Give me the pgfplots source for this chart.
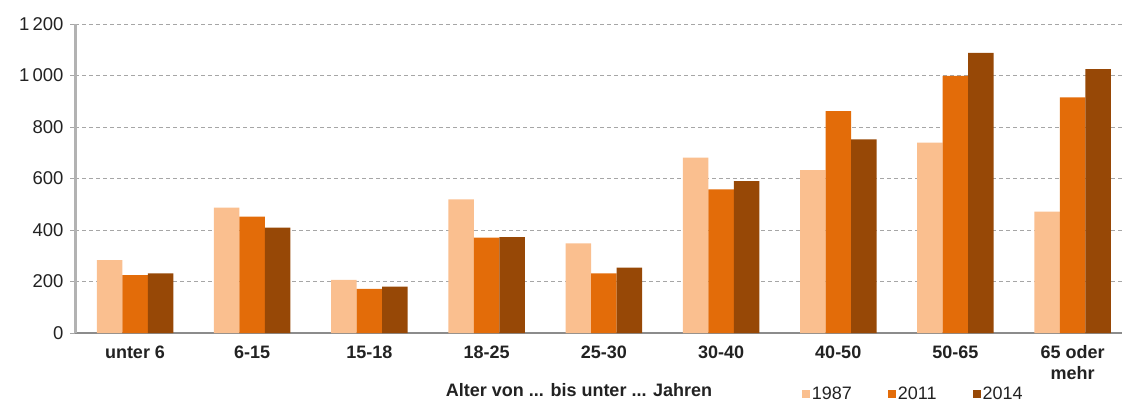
\documentclass[border=0pt]{standalone}
\usepackage{pgfplots}
\pgfplotsset{compat=1.18}
\usepackage{fontspec}
\setmainfont{Liberation Sans}
\definecolor{cA}{HTML}{FABF8F}
\definecolor{cB}{HTML}{E36C09}
\definecolor{cC}{HTML}{974806}
\definecolor{txt}{HTML}{222222}
\begin{document}
\begin{tikzpicture}
\begin{axis}[
  name=ax,
  scale only axis,
  width=1047pt, height=309pt,
  xmin=-0.512, xmax=8.421,
  ymin=0, ymax=1200,
  ytick={0,200,400,600,800,1000,1200},
  yticklabels={0,200,400,600,800,1\,000,1\,200},
  xtick={0,1,2,3,4,5,6,7,8},
  xticklabels={unter 6,6-15,15-18,18-25,25-30,30-40,40-50,50-65,{65 oder\\mehr}},
  xticklabel style={font=\fontsize{18}{21}\selectfont\bfseries, text=txt, align=center, anchor=north, yshift=-4pt},
  yticklabel style={font=\fontsize{18.5}{20}\selectfont, text=txt, xshift=-3pt},
  /pgf/number format/assume math mode=true,
  axis x line*=bottom, axis y line*=left,
  x axis line style={draw=gray!90, line width=1.5pt, -},
  y axis line style={draw=gray!60, line width=3pt, -},
  ymajorgrids,
  grid style={draw=gray!70, dashed, dash pattern=on 4pt off 3pt, line width=0.8pt},
  tick align=outside,
  major tick length=5pt,
  xtick style={draw=none},
  ytick style={draw=gray!70, line width=0.8pt},
  ybar=0pt,
  bar width=25.5pt,
  legend columns=3,
  legend style={draw=none, fill=none, at={(axis description cs:0.694,-0.197)}, anchor=west,
    font=\fontsize{18}{20}\selectfont, text=txt,
    /tikz/every even column/.append style={column sep=34pt},
    inner sep=0pt},
  legend image code/.code={\fill[#1] (0pt,-4pt) rectangle (8pt,4pt);},
]
\addplot[draw=none, fill=cA] coordinates {(0,283) (1,487) (2,206) (3,519) (4,348) (5,681) (6,633) (7,739) (8,471)};
\addplot[draw=none, fill=cB] coordinates {(0,225) (1,452) (2,171) (3,370) (4,232) (5,558) (6,862) (7,999) (8,915)};
\addplot[draw=none, fill=cC] coordinates {(0,232) (1,409) (2,180) (3,372) (4,254) (5,590) (6,752) (7,1088) (8,1025)};
\legend{1987,2011,2014}
\end{axis}
\node[font=\fontsize{18}{20}\selectfont\bfseries, text=txt, anchor=base] at ([shift={(504pt,-63pt)}]ax.south west) {Alter von ... bis unter ... Jahren};
\pgfresetboundingbox
\path ([shift={(-75pt,-68pt)}]ax.south west) rectangle ([shift={(0pt,24pt)}]ax.north east);
\end{tikzpicture}
\end{document}
